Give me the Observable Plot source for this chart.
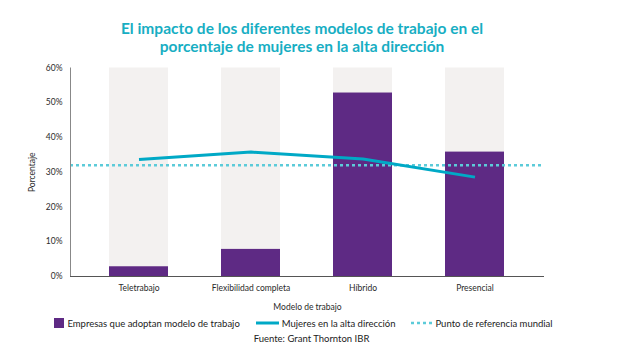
<!DOCTYPE html>
<html>
<head>
<meta charset="utf-8">
<script src="https://cdn.jsdelivr.net/npm/d3@7"></script>
<script src="https://cdn.jsdelivr.net/npm/@observablehq/plot@0.6"></script>
<style>
  html, body { margin: 0; padding: 0; background: #fff; }
  body { width: 643px; height: 358px; overflow: hidden; font-family: Lato, "Open Sans", sans-serif; }
  #title { height: 58px; box-sizing: border-box; padding-top: 20px; padding-right: 39px; text-align: center; color: #17aec3;
           font-weight: 700; font-size: 15.5px; line-height: 17.5px; }
  #legend { display: flex; justify-content: center; align-items: center; height: 22px;
            font-size: 9.5px; color: #222; padding-right: 36px; }
  .item { display: flex; align-items: center; margin: 0 8px; }
  .item svg { margin-right: 3px; }
  #caption { text-align: center; font-size: 9.5px; color: #222; padding-right: 20px; margin-top: -1px; }
</style>
</head>
<body>
<div id="title">El impacto de los diferentes modelos de trabajo en el<br>porcentaje de mujeres en la alta dirección</div>
<div id="chart"></div>
<div id="legend"></div>
<div id="caption">Fuente: Grant Thornton IBR</div>
<script>
const categories = ["Teletrabajo", "Flexibilidad completa", "Híbrido", "Presencial"];
const empresas = [2.8, 7.8, 52.8, 35.8];
const mujeres = [33.7, 35.8, 33.8, 28.6];
const referencia = 32;
const yMax = 60;
const yTicks = [0, 10, 20, 30, 40, 50, 60];
const seriesNames = ["Empresas que adoptan modelo de trabajo", "Mujeres en la alta dirección", "Punto de referencia mundial"];
const colors = ["#5e2a84", "#00a9c6", "#5ccbd9"];
const bgColor = "#f3f1f0";

const data = categories.map((c, i) => ({cat: c, empresas: empresas[i], mujeres: mujeres[i], full: yMax}));

const plot = Plot.plot({
  width: 643,
  height: 254,
  marginTop: 9.5,
  marginBottom: 36,
  marginLeft: 70,
  marginRight: 99,
  style: {fontFamily: "Lato, 'Open Sans', sans-serif", fontSize: "8.5px", color: "#2a2a2a", background: "transparent"},
  x: {domain: categories, range: [54.5, 557.5], padding: 0.475, label: "Modelo de trabajo"},
  y: {domain: [0, yMax], ticks: yTicks, label: "Porcentaje"},
  marks: [
    Plot.barY(data, {x: "cat", y: "full", fill: bgColor}),
    Plot.barY(data, {x: "cat", y: "empresas", fill: colors[0]}),
    Plot.ruleY([referencia], {stroke: colors[2], strokeWidth: 2.5, strokeDasharray: "3,3"}),
    Plot.line(data, {x: "cat", y: "mujeres", stroke: colors[1], strokeWidth: 3, strokeLinecap: "butt"}),
    Plot.frame({anchor: "left", stroke: "#888"}),
    Plot.ruleY([0], {stroke: "#555", strokeWidth: 1}),
    Plot.axisY({ticks: yTicks, tickSize: 0, tickPadding: 8, tickFormat: d => d + "%", label: "Porcentaje", labelAnchor: "center", labelArrow: "none", labelOffset: 42, fontSize: "8.5px"}),
    Plot.axisX({tickSize: 0, tickPadding: 8, label: "Modelo de trabajo", labelAnchor: "center", labelArrow: "none", labelOffset: 33, fontSize: "8.5px"})
  ]
});
document.getElementById("chart").appendChild(plot);

const legend = document.getElementById("legend");
const swatches = [
  `<svg width="10" height="10"><rect width="10" height="10" fill="${colors[0]}"/></svg>`,
  `<svg width="23" height="6"><line x1="0" x2="23" y1="3" y2="3" stroke="${colors[1]}" stroke-width="3"/></svg>`,
  `<svg width="21" height="6"><line x1="0" x2="21" y1="3" y2="3" stroke="${colors[2]}" stroke-width="2.5" stroke-dasharray="3,3"/></svg>`
];
seriesNames.forEach((n, i) => {
  const d = document.createElement("div");
  d.className = "item";
  d.innerHTML = swatches[i] + `<span>${n}</span>`;
  legend.appendChild(d);
});
</script>
</body>
</html>
